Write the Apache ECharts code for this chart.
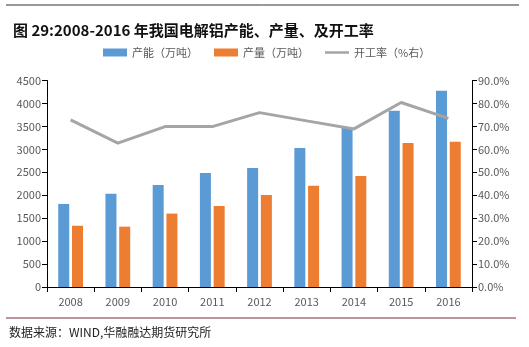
<!DOCTYPE html>
<html><head><meta charset="utf-8">
<script src="https://cdn.jsdelivr.net/npm/echarts@6/dist/echarts.min.js"></script>
<style>html,body{margin:0;padding:0;background:#fff;}#c{width:529px;height:347px;}</style>
</head><body><div id="c"></div>
<script>
const categories = ['2008','2009','2010','2011','2012','2013','2014','2015','2016'];
const capacity = [1810, 2030, 2225, 2485, 2595, 3030, 3475, 3840, 4275];
const output = [1335, 1315, 1600, 1765, 2005, 2205, 2420, 3140, 3165];
const utilization = [72.8, 62.7, 69.9, 69.9, 76.0, 72.4, 68.9, 80.4, 73.5];
const seriesNames = ['产能（万吨）', '产量（万吨）', '开工率（%右）'];
const titleText = '图 29:2008-2016 年我国电解铝产能、产量、及开工率';
const sourceText = '数据来源：WIND,华融融达期货研究所';

const font = '"Noto Sans CJK SC", "Noto Sans", sans-serif';
const lineIcon = 'path://M0,0L0.01,0L0,0.01Z M0,2.75L24,2.75L24,5.25L0,5.25Z M24,8L23.99,8L24,7.99Z';
const chart = echarts.init(document.getElementById('c'));
chart.setOption({
  animation: false,
  textStyle: {fontFamily: font},
  title: {text: titleText, left: 8, top: 18, textStyle: {fontSize: 15, fontWeight: 'bold', color: '#111', fontFamily: font}},
  legend: {top: 42, left: 98, itemWidth: 24, itemHeight: 8, itemGap: 16,
    textStyle: {fontSize: 11, color: '#595959', fontFamily: font},
    data: [{name: seriesNames[0], icon: 'rect'}, {name: seriesNames[1], icon: 'rect'}, {name: seriesNames[2], icon: lineIcon}]},
  grid: {left: 47, right: 57, top: 80.5, bottom: 60},
  xAxis: {type: 'category', data: categories,
    axisLine: {lineStyle: {color: '#000', width: 1}},
    axisTick: {show: true, length: 5, alignWithLabel: false, lineStyle: {color: '#000'}},
    axisLabel: {color: '#595959', fontSize: 11, margin: 9}},
  yAxis: [
    {type: 'value', min: 0, max: 4500, interval: 500,
      axisLine: {show: true, lineStyle: {color: '#000'}},
      axisTick: {show: true, length: 5, lineStyle: {color: '#000'}},
      splitLine: {show: false},
      axisLabel: {color: '#595959', fontSize: 11, margin: 6, formatter: v => String(v)}},
    {type: 'value', min: 0, max: 90, interval: 10, position: 'right',
      axisLine: {show: true, lineStyle: {color: '#000'}},
      axisTick: {show: true, length: 5, lineStyle: {color: '#000'}},
      splitLine: {show: false},
      axisLabel: {color: '#595959', fontSize: 11, margin: 6, formatter: v => v.toFixed(1) + '%'}}
  ],
  series: [
    {name: seriesNames[0], type: 'bar', data: capacity, barWidth: 11, barGap: '25%', itemStyle: {color: '#5B9BD5'}},
    {name: seriesNames[1], type: 'bar', data: output, barWidth: 11, itemStyle: {color: '#ED7D31'}},
    {name: seriesNames[2], type: 'line', yAxisIndex: 1, data: utilization, symbol: 'none',
      lineStyle: {color: '#A5A5A5', width: 3}, itemStyle: {color: '#A5A5A5'}}
  ],
  graphic: [
    {type: 'line', shape: {x1: 6, y1: 5, x2: 519, y2: 5}, style: {stroke: '#3b2b3b', lineWidth: 1}},
    {type: 'line', shape: {x1: 6, y1: 318, x2: 516, y2: 318}, style: {stroke: '#7a2a35', lineWidth: 1}},
    {type: 'text', left: 9, top: 326, style: {text: sourceText, fontSize: 12, fill: '#222', fontFamily: font}}
  ]
});
</script></body></html>
